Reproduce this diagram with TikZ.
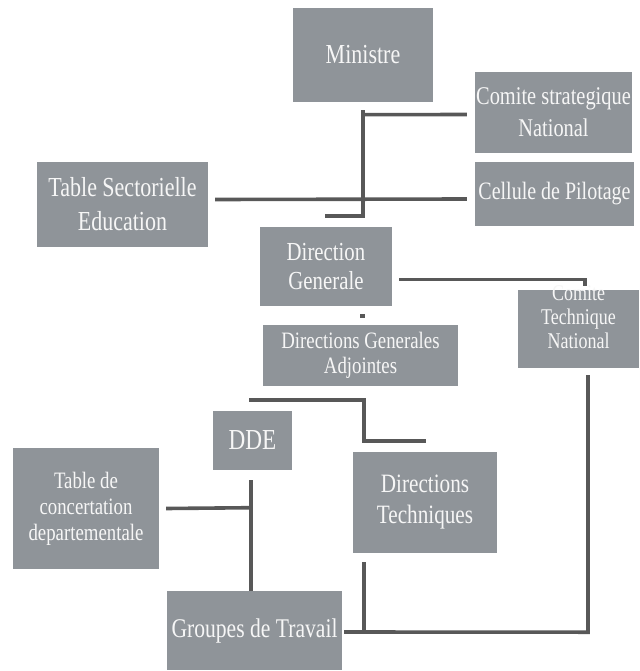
\documentclass[tikz,border=0pt]{standalone}
\usepackage{fontspec}
\setmainfont[FakeStretch=0.8]{Liberation Serif}
\usetikzlibrary{calc}
\definecolor{boxgray}{RGB}{143,148,153}
\definecolor{linegray}{RGB}{88,88,88}
\definecolor{txt}{RGB}{246,246,246}
\tikzset{
  orgbox/.style={rectangle, fill=boxgray, inner sep=0pt, text=txt, align=center,
    font=\fontsize{25}{27}\selectfont},
  conn/.style={draw=linegray, line width=3.6pt, line cap=butt, line join=miter}
}
\begin{document}
\begin{tikzpicture}[x=1pt,y=-1pt]
\useasboundingbox[fill=white] (0,0) rectangle (639,671);

\node[orgbox, minimum width=140pt, minimum height=94pt, font=\fontsize{27.5}{30}\selectfont] (min) at (363,55) {Ministre};
\node[orgbox, minimum width=157pt, minimum height=81pt, font=\fontsize{25.5}{32}\selectfont] (csn) at (553.5,112.5) {Comite strategique\\National};
\node[orgbox, minimum width=159pt, minimum height=64pt, font=\fontsize{25}{27}\selectfont] (cdp) at (554.5,194) {Cellule de Pilotage};
\node[orgbox, minimum width=171pt, minimum height=85pt, font=\fontsize{27.5}{34}\selectfont] (tse) at (122.5,204.5) {Table Sectorielle\\Education};
\node[orgbox, minimum width=132pt, minimum height=79pt, font=\fontsize{26}{29}\selectfont] (dg) at (326,266.5) {Direction\\Generale};
\node[orgbox, minimum width=195pt, minimum height=61pt, font=\fontsize{23.5}{25}\selectfont] (dga) at (360.5,355.5) {Directions Generales\\Adjointes};
\node[orgbox, minimum width=121pt, minimum height=78pt] (ctn) at (578.5,329) {};
\node[text=txt, align=center, inner sep=0pt, font=\fontsize{22.5}{24}\selectfont] (ctnt) at (578.5,325) {\raisebox{0pt}[0pt][0pt]{Comite}\\Technique\\National};
\node[orgbox, minimum width=79pt, minimum height=59pt, font=\fontsize{29}{30}\selectfont] (dde) at (252.5,440.5) {DDE};
\node[orgbox, minimum width=146pt, minimum height=121pt, font=\fontsize{23.5}{26}\selectfont] (tcd) at (86,508.5) {Table de\\concertation\\departementale};
\node[orgbox, minimum width=144pt, minimum height=101pt, font=\fontsize{26.5}{31}\selectfont] (dt) at (425,502.5) {Directions\\Techniques};
\node[orgbox, minimum width=175pt, minimum height=79pt, font=\fontsize{27}{29}\selectfont] (gdt) at (254.5,630.5) {Groupes de Travail};

% Ministre / Comite strategique / Cellule de Pilotage / Table Sectorielle / Direction Generale
\draw[conn] ($(csn.west)+(-8,2)$) -- ($(min.south)+(0,12.5)$);
\draw[conn] ($(min.south)+(0,8)$) -- ($(dg.north)+(37,-11)$) -- ($(dg.north)+(-1,-11)$);
\draw[conn] ($(tse.east)+(7,-5)$) -- ($(cdp.west)+(-8,5)$);
% Direction Generale -> Comite Technique National
\draw[conn] ($(dg.east)+(7,13)$) -| ($(ctn.north)+(6.5,-4)$);
% small mark between DG and DGA
\draw[conn] ($(dg.south)+(34,10)$) -- ($(dg.south)+(39,10)$);
% DGA -> Directions Techniques
\draw[conn] ($(dga.south)+(-111.5,14)$) -| ($(dt.north)+(-61,-11)$) -- ($(dt.north)+(1,-11)$);
% DDE -> Groupes de Travail, Table de concertation
\draw[conn] ($(dde.south)+(-1.5,10)$) -- ($(gdt.north)+(-3.5,0)$);
\draw[conn] ($(tcd.east)+(7,0)$) -- ($(dde.south)+(-1.5,37.5)$);
% Directions Techniques / CTN -> Groupes de Travail
\draw[conn] ($(dt.south)+(-61,9)$) -- ($(dt.south)+(-61,79.5)$);
\draw[conn] ($(gdt.east)+(2,1.5)$) -- ($(ctn.south)+(9.5,264)$) -- ($(ctn.south)+(9.5,7)$);
\end{tikzpicture}
\end{document}
